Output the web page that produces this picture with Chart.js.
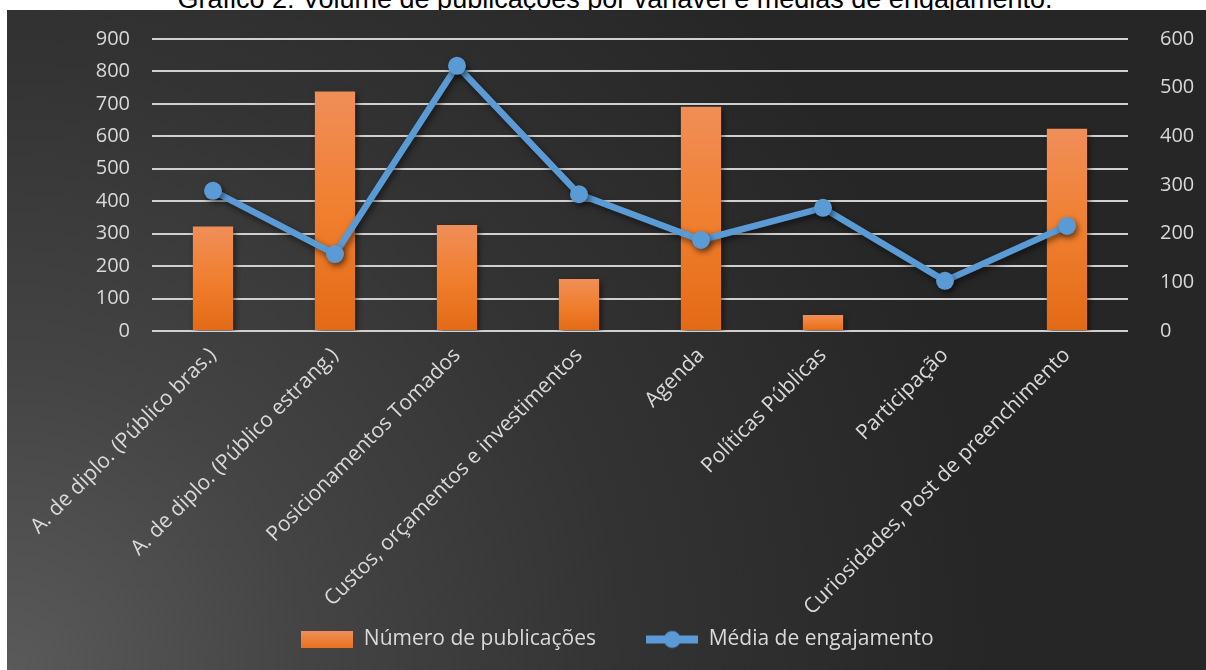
<!DOCTYPE html>
<html>
<head>
<meta charset="utf-8">
<script src="https://cdn.jsdelivr.net/npm/chart.js@4.4.1/dist/chart.umd.min.js"></script>
<style>
  html, body { margin: 0; padding: 0; background: #fff; overflow: hidden; }
  #titulo {
    position: absolute; left: 12px; top: -14px; width: 1206px; text-align: center; white-space: nowrap;
    font-family: "Liberation Sans", Arial, sans-serif; font-size: 27px; line-height: 26px; color: #000;
  }
  #painel {
    position: absolute; left: 7px; top: 10px; width: 1199px; height: 660px;
    background: radial-gradient(circle at 0% 100%, #5a5a5a 0%, #444 22%, #333 45%, #262626 72%);
  }
</style>
</head>
<body>
<div id="titulo">Gráfico 2: Volume de publicações por variável e médias de engajamento.</div>
<div id="painel"><canvas id="grafico" width="1199" height="660"></canvas></div>
<script>
// categorias e valores
var categorias = [
  'A. de diplo. (Público bras.)',
  'A. de diplo. (Público estrang.)',
  'Posicionamentos Tomados',
  'Custos, orçamentos e investimentos',
  'Agenda',
  'Políticas Públicas',
  'Participação',
  'Curiosidades, Post de preenchimento'
];
var publicacoes = [322, 738, 327, 160, 691, 49, 0, 623];
var engajamento = [288, 158, 545, 281, 187, 253, 103, 216];
var ticksEsq = [0, 900, 100];
var ticksDir = [0, 600, 100];

var corTexto = '#d9d9d9';
var fonte = "'Open Sans', sans-serif";

// icones da legenda
var imgBarra = document.createElement('canvas');
imgBarra.width = 52; imgBarra.height = 17;
var cb = imgBarra.getContext('2d');
var gb = cb.createLinearGradient(0, 0, 0, 17);
gb.addColorStop(0, '#F08E58'); gb.addColorStop(1, '#E8721E');
cb.fillStyle = gb; cb.fillRect(0, 0, 52, 17);

var imgLinha = document.createElement('canvas');
imgLinha.width = 52; imgLinha.height = 20;
var cl = imgLinha.getContext('2d');
cl.fillStyle = '#5B9BD5';
cl.fillRect(0, 6, 52, 8);
cl.beginPath(); cl.arc(26, 10, 8.5, 0, Math.PI * 2); cl.fill();

var sombra = {
  id: 'sombra',
  beforeDatasetDraw: function(chart, args) {
    var ctx = chart.ctx;
    ctx.save();
    ctx.shadowColor = 'rgba(0,0,0,0.55)';
    ctx.shadowBlur = 6;
    ctx.shadowOffsetX = 2;
    ctx.shadowOffsetY = 3;
  },
  afterDatasetDraw: function(chart, args) {
    chart.ctx.restore();
  }
};

// o padding dos ticks nao deve empurrar a area do grafico
function semPaddingVertical(s) {
  s.paddingTop = 0;
  s.paddingBottom = 0;
}

var ctx = document.getElementById('grafico').getContext('2d');
var grafico = new Chart(ctx, {
  type: 'bar',
  data: {
    labels: categorias,
    datasets: [{
      type: 'line',
      label: 'Média de engajamento',
      data: engajamento,
      yAxisID: 'y1',
      borderColor: '#5B9BD5',
      backgroundColor: '#5B9BD5',
      borderWidth: 6.5,
      pointRadius: 9,
      pointHoverRadius: 9,
      pointBorderWidth: 0,
      tension: 0,
      order: 0
    }, {
      type: 'bar',
      label: 'Número de publicações',
      data: publicacoes,
      yAxisID: 'y',
      order: 1,
      categoryPercentage: 1,
      barPercentage: 0.33,
      backgroundColor: function(c) {
        var chart = c.chart;
        if (!chart.chartArea || c.raw == null) return '#ED7D31';
        var y = chart.scales.y;
        var topo = y.getPixelForValue(c.raw), base = y.getPixelForValue(0);
        if (base - topo < 1) return '#E97828';
        var g = chart.ctx.createLinearGradient(0, topo, 0, base);
        g.addColorStop(0, '#F08E58');
        g.addColorStop(0.5, '#F07F2F');
        g.addColorStop(1, '#E36A15');
        return g;
      }
    }]
  },
  options: {
    responsive: false,
    animation: false,
    devicePixelRatio: 1,
    layout: { padding: { left: 22, right: 0, top: 29, bottom: 10 } },
    plugins: {
      tooltip: { enabled: false },
      legend: {
        position: 'bottom',
        labels: {
          color: corTexto,
          font: { family: fonte, size: 21 },
          usePointStyle: true,
          pointStyleWidth: 52,
          padding: 12,
          generateLabels: function(chart) {
            return [
              { text: 'Número de publicações       ', pointStyle: imgBarra, fontColor: corTexto, datasetIndex: 1, lineWidth: 0, strokeStyle: 'transparent' },
              { text: 'Média de engajamento', pointStyle: imgLinha, fontColor: corTexto, datasetIndex: 0, lineWidth: 0, strokeStyle: 'transparent' }
            ];
          }
        }
      }
    },
    scales: {
      x: {
        grid: { display: false },
        border: { display: false },
        ticks: {
          color: corTexto, font: { family: fonte, size: 21 },
          minRotation: 45, maxRotation: 45, autoSkip: false, padding: 4
        },
        afterFit: function(s) { s.height = 286; }
      },
      y: {
        position: 'left',
        min: ticksEsq[0], max: ticksEsq[1],
        grid: { color: '#d0d0d0', lineWidth: 2, drawTicks: false },
        border: { display: false },
        ticks: { stepSize: ticksEsq[2], color: corTexto, font: { family: fonte, size: 20 }, padding: 22 },
        afterFit: function(s) { s.width = 123; semPaddingVertical(s); }
      },
      y1: {
        position: 'right',
        min: ticksDir[0], max: ticksDir[1],
        grid: { display: false },
        border: { display: false },
        ticks: { stepSize: ticksDir[2], color: corTexto, font: { family: fonte, size: 20 }, padding: 24 },
        afterFit: function(s) { s.width = 78; semPaddingVertical(s); }
      }
    }
  },
  plugins: [sombra]
});
</script>
</body>
</html>
